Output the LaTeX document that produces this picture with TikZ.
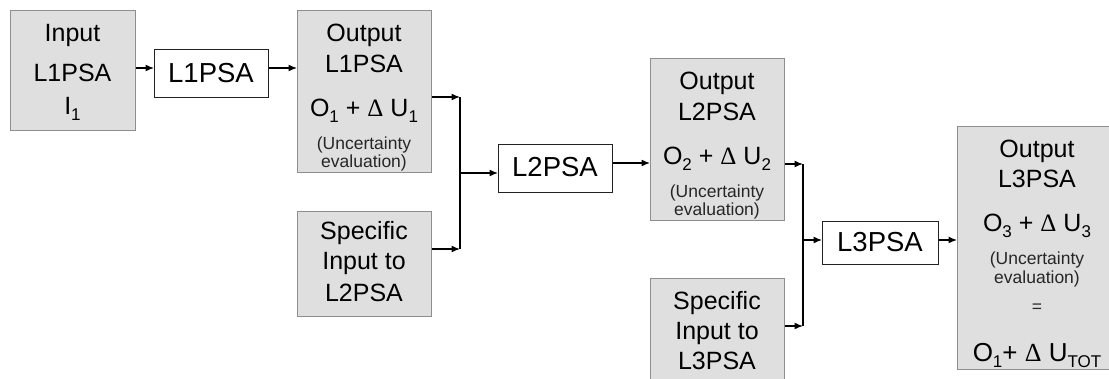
\documentclass[tikz,border=0pt]{standalone}
\usepackage{fontspec}
\setmainfont{Liberation Sans}
\newfontfamily\dltfont{Liberation Serif}
\usetikzlibrary{arrows.meta}
\definecolor{boxgray}{HTML}{DFDFDF}
\definecolor{edgegray}{HTML}{8E8E8E}
\definecolor{darkedge}{HTML}{222222}
\newcommand\mysub[1]{\raisebox{-6pt}{\fontsize{17}{17}\selectfont #1}}
\newcommand\mydelta{{\dltfont Δ}}
\newcommand\mybox[6]{\node[#1, minimum width={#4-#2}, minimum height={#5-#3}, anchor=north west] (#6) at (#2,#3) {};}
\tikzset{
  graybox/.style={rectangle, draw=edgegray, fill=boxgray, line width=1.1pt, inner sep=0pt},
  whitebox/.style={rectangle, draw=darkedge, fill=white, line width=1.2pt, inner sep=0pt},
  big/.style={anchor=base, inner sep=0pt, font=\fontsize{25}{27}\selectfont},
  huge/.style={anchor=base, inner sep=0pt, font=\fontsize{27.5}{29}\selectfont},
  small/.style={anchor=base, inner sep=0pt, font=\fontsize{17.5}{19}\selectfont, text=black!85},
  arr/.style={line width=1.3pt, -{Latex[length=8.5pt,width=7pt]}},
  wire/.style={line width=1.3pt}
}
\begin{document}
\begin{tikzpicture}[x=1pt,y=-1pt]
\useasboundingbox (0,0) rectangle (1109,379);
\clip (0,0) rectangle (1109,379);
\fill[white] (0,0) rectangle (1109,379);
% boxes
\mybox{graybox}{10}{10}{135}{130}{in1}
\mybox{whitebox}{154}{49}{268}{97}{p1}
\mybox{graybox}{297}{10}{431}{172}{out1}
\mybox{graybox}{297}{211}{431}{316}{sp2}
\mybox{whitebox}{498}{144}{612}{192}{p2}
\mybox{graybox}{650}{58}{784}{220}{out2}
\mybox{graybox}{650}{278}{784}{392}{sp3}
\mybox{whitebox}{822}{221}{938}{264}{p3}
\mybox{graybox}{957}{126}{1118}{369}{out3}
% texts
\node[big] (in1a) at (72.5,42) {Input};
\node[big] (in1b) at (72.5,82) {L1PSA};
\node[big] (in1c) at (72.5,115) {I\mysub{1}};
\node[huge] (p1t) at (211,83) {L1PSA};
\node[big] (o1a) at (364,42) {Output};
\node[big] (o1b) at (364,73) {L1PSA};
\node[big] (o1c) at (364,117) {O\mysub{1} + \mydelta\ U\mysub{1}};
\node[small] (o1d) at (364,150) {(Uncertainty};
\node[small] (o1e) at (364,168) {evaluation)};
\node[big] (s2a) at (364,240) {Specific};
\node[big] (s2b) at (364,270) {Input to};
\node[big] (s2c) at (364,302) {L2PSA};
\node[huge] (p2t) at (555,177) {L2PSA};
\node[big] (o2a) at (717,90) {Output};
\node[big] (o2b) at (717,121) {L2PSA};
\node[big] (o2c) at (717,165) {O\mysub{2} + \mydelta\ U\mysub{2}};
\node[small] (o2d) at (717,198) {(Uncertainty};
\node[small] (o2e) at (717,216) {evaluation)};
\node[big] (s3a) at (717,310) {Specific};
\node[big] (s3b) at (717,340) {Input to};
\node[big] (s3c) at (717,370) {L3PSA};
\node[huge] (p3t) at (880,252) {L3PSA};
\node[big] (o3a) at (1037,158) {Output};
\node[big] (o3b) at (1037,188) {L3PSA};
\node[big] (o3c) at (1037,232) {O\mysub{3} + \mydelta\ U\mysub{3}};
\node[small] (o3d) at (1037,265) {(Uncertainty};
\node[small] (o3e) at (1037,284) {evaluation)};
\node[small] (o3f) at (1037,313) {=};
\node[anchor=base, inner sep=0pt, font=\fontsize{26}{28}\selectfont] (o3g) at (1037,362) {O\mysub{1}+ \mydelta\ U\mysub{TOT}};
% connector coordinates
\coordinate (a1) at (0,68);
\coordinate (j1t) at (460,97);
\coordinate (j1m) at (460,173);
\coordinate (j1b) at (460,249);
\coordinate (a2) at (0,163);
\coordinate (j2t) at (803,164);
\coordinate (j2m) at (803,240);
\coordinate (j2b) at (803,326);
% connectors
\draw[arr] (in1.east |- a1) -- (p1.west |- a1);
\draw[arr] (p1.east |- a1) -- (out1.west |- a1);
\draw[wire] (j1t) -- (j1b);
\draw[arr] (out1.east |- j1t) -- (j1t);
\draw[arr] (sp2.east |- j1b) -- (j1b);
\draw[arr] (j1m) -- (p2.west |- j1m);
\draw[arr] (p2.east |- a2) -- (out2.west |- a2);
\draw[wire] (j2t) -- (j2b);
\draw[arr] (out2.east |- j2t) -- (j2t);
\draw[arr] (sp3.east |- j2b) -- (j2b);
\draw[arr] (j2m) -- (p3.west |- j2m);
\draw[arr] (p3.east |- j2m) -- (out3.west |- j2m);
\end{tikzpicture}
\end{document}
